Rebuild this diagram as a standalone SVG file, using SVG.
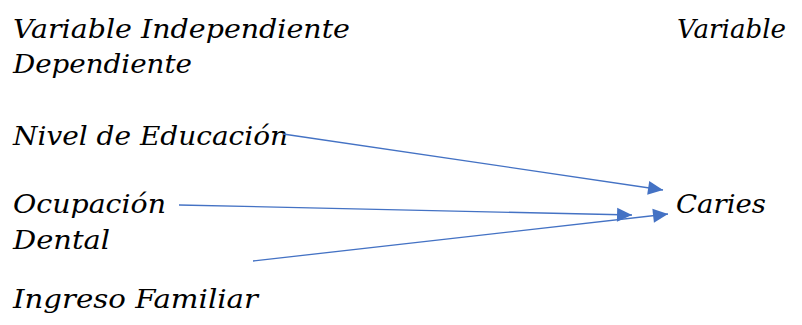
<svg xmlns="http://www.w3.org/2000/svg" width="802" height="325" viewBox="0 0 802 325">
<style>
text{font-family:"DejaVu Serif","Liberation Serif",serif;font-style:italic;font-size:26.5px;fill:#000}
.c{stroke:#4472C4;stroke-width:1.3;fill:none}
</style>
<defs>
<marker id="ah" viewBox="0 0 10 10" refX="10" refY="5" markerWidth="11" markerHeight="10" markerUnits="userSpaceOnUse" orient="auto" overflow="visible">
<path d="M0,0 L10,5 L0,10 z" fill="#4472C4" transform="scale(1.5,1.4) translate(-3.3,-1.43)"/>
</marker>
</defs>
<rect width="802" height="325" fill="#fff"/>
<g id="headers">
<text x="13" y="38" textLength="337" lengthAdjust="spacingAndGlyphs">Variable Independiente</text>
<text x="677" y="38" textLength="109" lengthAdjust="spacingAndGlyphs">Variable</text>
<text x="13" y="73" textLength="179" lengthAdjust="spacingAndGlyphs">Dependiente</text>
</g>
<g id="nivel"><text x="13" y="145" textLength="275" lengthAdjust="spacingAndGlyphs">Nivel de Educación</text></g>
<g id="ocupacion"><text x="13" y="213" textLength="153" lengthAdjust="spacingAndGlyphs">Ocupación</text><text x="13" y="249" textLength="97" lengthAdjust="spacingAndGlyphs">Dental</text></g>
<g id="ingreso"><text x="13" y="308" textLength="245" lengthAdjust="spacingAndGlyphs">Ingreso Familiar</text></g>
<g id="caries"><text x="676" y="213" textLength="90" lengthAdjust="spacingAndGlyphs">Caries</text></g>
<g id="connectors">
<line class="c" x1="283" y1="134" x2="663" y2="190" marker-end="url(#ah)"/>
<line class="c" x1="179" y1="205" x2="632" y2="215" marker-end="url(#ah)"/>
<line class="c" x1="253" y1="261" x2="668" y2="214" marker-end="url(#ah)"/>
</g>
</svg>
